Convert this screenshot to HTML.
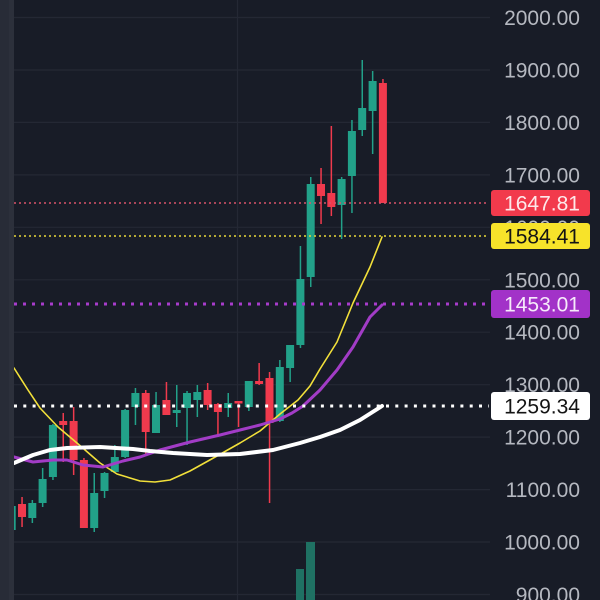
<!DOCTYPE html>
<html>
<head>
<meta charset="utf-8">
<style>
html,body{margin:0;padding:0;background:#181c27;}
svg{display:block;}
text{font-family:"Liberation Sans",Arial,sans-serif;font-size:21px;}
</style>
</head>
<body>
<svg width="600" height="600" viewBox="0 0 600 600" xmlns="http://www.w3.org/2000/svg">
<rect x="0" y="0" width="600" height="600" fill="#181c27"/>
<!-- grid -->
<g stroke="#242834" stroke-width="1.2">
<line x1="14" y1="17.5" x2="490" y2="17.5"/>
<line x1="14" y1="70" x2="490" y2="70"/>
<line x1="14" y1="122.4" x2="490" y2="122.4"/>
<line x1="14" y1="174.9" x2="490" y2="174.9"/>
<line x1="14" y1="227.3" x2="490" y2="227.3"/>
<line x1="14" y1="279.8" x2="490" y2="279.8"/>
<line x1="14" y1="332.2" x2="490" y2="332.2"/>
<line x1="14" y1="384.7" x2="490" y2="384.7"/>
<line x1="14" y1="437.1" x2="490" y2="437.1"/>
<line x1="14" y1="489.6" x2="490" y2="489.6"/>
<line x1="14" y1="542" x2="490" y2="542"/>
<line x1="14" y1="594.5" x2="490" y2="594.5"/>
<line x1="237.5" y1="0" x2="237.5" y2="600"/>
</g>
<!-- volume -->
<rect x="296" y="569" width="8" height="31" fill="#1f7163"/>
<rect x="306" y="542" width="9" height="58" fill="#1f7163"/>
<!-- candles -->
<g id="c">
<!-- green -->
<g fill="#22a189">
<rect x="11" y="500" width="1.5" height="32"/><rect x="7.7" y="506" width="8" height="24"/>
<rect x="31.6" y="500" width="1.5" height="23"/><rect x="28.3" y="503" width="8" height="15"/>
<rect x="41.9" y="468" width="1.5" height="39"/><rect x="38.6" y="479" width="8" height="24"/>
<rect x="52.2" y="424" width="1.5" height="56"/><rect x="48.9" y="425" width="8" height="52"/>
<rect x="93.5" y="473" width="1.5" height="59"/><rect x="90.2" y="493" width="8" height="35"/>
<rect x="103.8" y="472" width="1.5" height="26"/><rect x="100.5" y="473" width="8" height="18"/>
<rect x="114.1" y="445" width="1.5" height="28"/><rect x="110.8" y="457" width="8" height="15"/>
<rect x="124.4" y="409" width="1.5" height="49"/><rect x="121.1" y="410" width="8" height="47"/>
<rect x="134.7" y="388" width="1.5" height="37"/><rect x="131.4" y="393" width="8" height="14"/>
<rect x="155.3" y="392" width="1.5" height="41"/><rect x="152" y="405" width="8" height="28"/>
<rect x="176" y="385" width="1.5" height="42"/><rect x="172.7" y="410" width="8" height="3"/>
<rect x="186.3" y="391" width="1.5" height="54"/><rect x="183" y="393" width="8" height="15"/>
<rect x="196.6" y="385" width="1.5" height="32"/><rect x="193.3" y="392" width="8" height="8"/>
<rect x="227.5" y="393" width="1.5" height="24"/><rect x="224.2" y="403" width="8" height="5"/>
<rect x="248.1" y="381" width="1.5" height="30"/><rect x="244.8" y="381" width="8" height="26"/>
<rect x="279.1" y="360" width="1.5" height="62"/><rect x="275.8" y="367" width="8" height="54"/>
<rect x="289.4" y="345" width="1.5" height="37"/><rect x="286.1" y="345" width="8" height="23"/>
<rect x="299.7" y="246" width="1.5" height="102"/><rect x="296.4" y="279" width="8" height="66"/>
<rect x="310" y="177" width="1.5" height="110"/><rect x="306.7" y="184" width="8" height="93"/>
<rect x="340.9" y="177" width="1.5" height="62"/><rect x="337.6" y="179" width="8" height="26"/>
<rect x="351.2" y="120" width="1.5" height="93"/><rect x="347.9" y="131" width="8" height="45"/>
<rect x="361.5" y="60" width="1.5" height="76"/><rect x="358.2" y="108" width="8" height="22"/>
<rect x="371.9" y="71" width="1.5" height="83"/><rect x="368.6" y="81" width="8" height="30"/>
</g>
<!-- red -->
<g fill="#f03a4d">
<rect x="21.3" y="497" width="1.5" height="30"/><rect x="18" y="504" width="8" height="13"/>
<rect x="62.5" y="413" width="1.5" height="49"/><rect x="59.2" y="421" width="8" height="4"/>
<rect x="72.9" y="407" width="1.5" height="68"/><rect x="69.6" y="421" width="8" height="39"/>
<rect x="83.2" y="458" width="1.5" height="70"/><rect x="79.9" y="460" width="8" height="68"/>
<rect x="145" y="390" width="1.5" height="65"/><rect x="141.7" y="393" width="8" height="39"/>
<rect x="165.7" y="382" width="1.5" height="33"/><rect x="162.4" y="400" width="8" height="15"/>
<rect x="206.9" y="383" width="1.5" height="27"/><rect x="203.6" y="390" width="8" height="15"/>
<rect x="217.2" y="403" width="1.5" height="34"/><rect x="213.9" y="404" width="8" height="8"/>
<rect x="237.8" y="401" width="1.5" height="26"/><rect x="234.5" y="401" width="8" height="2.5"/>
<rect x="258.4" y="363" width="1.5" height="22"/><rect x="255.1" y="381" width="8" height="3"/>
<rect x="268.8" y="372" width="1.5" height="131"/><rect x="265.5" y="378" width="8" height="45"/>
<rect x="320.3" y="168" width="1.5" height="56"/><rect x="317" y="184" width="8" height="12"/>
<rect x="330.6" y="126" width="1.5" height="90"/><rect x="327.3" y="193" width="8" height="14"/>
<rect x="382.2" y="79" width="1.5" height="124"/><rect x="378.9" y="83" width="8" height="120"/>
</g>
</g>
<!-- moving averages -->
<polyline fill="none" stroke="#f2e03a" stroke-width="1.6" stroke-linejoin="round" stroke-linecap="round"
points="14,368 28,390 40,408 58,427 77,443 100,463 117,474 140,481 155,482 170,480 190,471 217,456 240,443 260,431 280,414 298,400 310,386 320,369 337,342 353,303 370,267 382,237"/>
<polyline fill="none" stroke="#a23cc6" stroke-width="3" stroke-linejoin="round" stroke-linecap="round"
points="14,457 33,462 53,460 67,460 83,465 103,467 123,461 140,457 160,450 190,442 220,435 240,430 260,425 280,419 292,413 303,406 320,390 337,370 353,347 370,317 382,305"/>
<polyline fill="none" stroke="#ffffff" stroke-width="4" stroke-linejoin="round" stroke-linecap="round"
points="14,463 33,455 50,450 67,448 100,447 133,449 150,451 173,453 207,455 240,454 273,450 300,443 320,437 340,430 360,420 382,406"/>
<!-- price lines -->
<line x1="14" y1="203" x2="489" y2="203" stroke="#d9536a" stroke-width="1.5" stroke-dasharray="2 3"/>
<line x1="14" y1="236" x2="489" y2="236" stroke="#e8d83a" stroke-width="1.5" stroke-dasharray="2 3"/>
<line x1="14" y1="304" x2="489" y2="304" stroke="#a83ccc" stroke-width="3" stroke-dasharray="3 6"/>
<line x1="14" y1="406" x2="489" y2="406" stroke="#ffffff" stroke-width="3" stroke-dasharray="3 6.3"/>
<!-- left strip -->
<rect x="0" y="0" width="14" height="600" fill="#282c37"/>
<rect x="9" y="0" width="5" height="600" fill="#2c303b"/>
<!-- axis labels -->
<g fill="#b5b8c0" text-anchor="end">
<text x="580" y="25">2000.00</text>
<text x="580" y="77.5">1900.00</text>
<text x="580" y="129.9">1800.00</text>
<text x="580" y="182.4">1700.00</text>
<text x="580" y="234.8">1600.00</text>
<text x="580" y="287.3">1500.00</text>
<text x="580" y="339.7">1400.00</text>
<text x="580" y="392.2">1300.00</text>
<text x="580" y="444.6">1200.00</text>
<text x="580" y="497.1">1100.00</text>
<text x="580" y="549.5">1000.00</text>
<text x="580" y="602">900.00</text>
</g>
<!-- price boxes -->
<rect x="491" y="190" width="99" height="26" rx="3" fill="#f23a4c"/>
<text x="580" y="210.5" text-anchor="end" fill="#fde8ea">1647.81</text>
<rect x="491" y="223" width="99" height="26" rx="3" fill="#f7e32a"/>
<text x="580" y="243.5" text-anchor="end" fill="#141414">1584.41</text>
<rect x="491" y="290" width="99" height="28" rx="3" fill="#a232c8"/>
<text x="580" y="311.5" text-anchor="end" fill="#f6eafa">1453.01</text>
<rect x="491" y="392" width="99" height="28" rx="3" fill="#ffffff"/>
<text x="580" y="413.5" text-anchor="end" fill="#141414">1259.34</text>
</svg>
</body>
</html>
